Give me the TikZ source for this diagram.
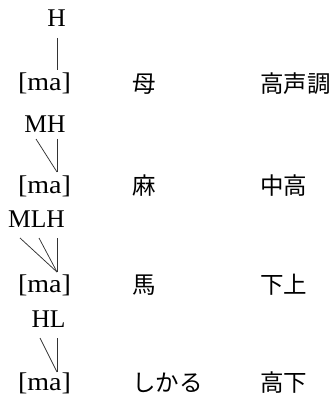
\documentclass[tikz,border=0pt]{standalone}
\usepackage{fontspec}
\setmainfont{Liberation Serif}
\newfontfamily\jpfont{Noto Sans CJK JP}
\newcommand{\syl}{\scalebox{1.1}[1]{[ma]}}
\begin{document}
\begin{tikzpicture}[x=1pt,y=-1pt,
  lat/.style={inner sep=0pt,anchor=base,font=\fontsize{25.5}{30}\selectfont},
  jp/.style={inner sep=0pt,anchor=base west,font=\fontsize{23.5}{28}\selectfont\jpfont},
  tie/.style={draw=black!80,line width=0.75pt}]
\useasboundingbox (0,0) rectangle (332,398);
% row 1
\node[lat] (t1) at (56.5,27) {H};
\node[lat] (m1) at (44.5,91) {\syl};
\node[jp] (w1) at (132,93) {母};
\node[jp] (g1) at (260,93) {高声調};
\coordinate (a1) at (57,38); \coordinate (b1) at (57,70);
\draw[tie] (a1) -- (b1);
% row 2
\node[lat] (t2) at (45,132) {MH};
\node[lat] (m2) at (44.5,193) {\syl};
\node[jp] (w2) at (132,194) {麻};
\node[jp] (g2) at (260,194) {中高};
\coordinate (a2) at (57,139); \coordinate (b2) at (57,172); \coordinate (c2) at (36,139);
\draw[tie] (a2) -- (b2);
\draw[tie] (c2) -- (b2);
% row 3
\node[lat] (t3) at (36.5,227) {MLH};
\node[lat] (m3) at (44.5,292) {\syl};
\node[jp] (w3) at (132,293) {馬};
\node[jp] (g3) at (260,293) {下上};
\coordinate (a3) at (57,238); \coordinate (b3) at (57,272);
\coordinate (c3) at (39,238); \coordinate (d3) at (20,238);
\draw[tie] (a3) -- (b3);
\draw[tie] (c3) -- (b3);
\draw[tie] (d3) -- (b3);
% row 4
\node[lat] (t4) at (48.5,327) {HL};
\node[lat] (m4) at (44.5,390) {\syl};
\node[jp] (w4) at (132,391) {しかる};
\node[jp] (g4) at (260,391) {高下};
\coordinate (a4) at (57,338); \coordinate (b4) at (57,372); \coordinate (c4) at (40,338);
\draw[tie] (a4) -- (b4);
\draw[tie] (c4) -- (b4);
\end{tikzpicture}
\end{document}
